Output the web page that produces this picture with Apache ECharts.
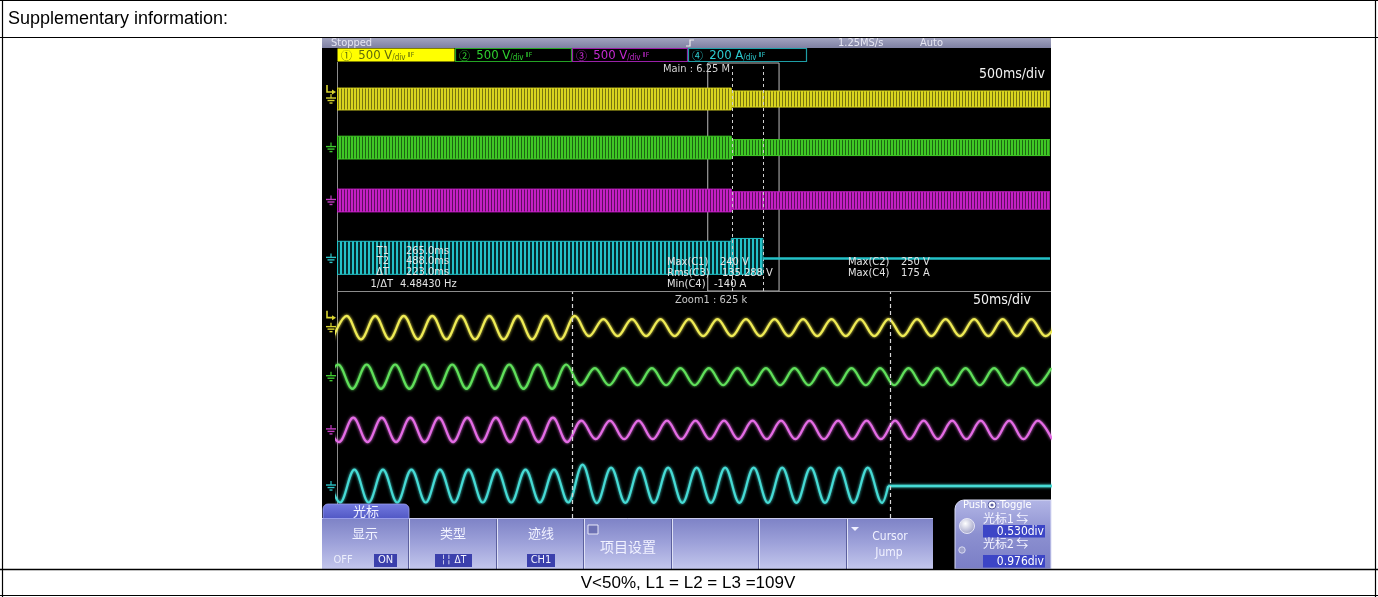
<!DOCTYPE html>
<html>
<head>
<meta charset="utf-8">
<title>Cursor measurement - voltage dip</title>
<script src="https://cdn.jsdelivr.net/npm/echarts@6/dist/echarts.min.js"></script>
<style>
html, body { margin: 0; padding: 0; background: #ffffff; }
#chart { width: 1378px; height: 597px; }
</style>
</head>
<body>
<div id="chart"></div>
<script>
// ---------------- channel setup ----------------
const channelNames = ['CH1', 'CH2', 'CH3', 'CH4'];
const channelLabels = ['500 V', '500 V', '500 V', '200 A'];
const channelScales = [500, 500, 500, 200];          // per division
const mainPositions = [8.42, 6.29, 3.97, 1.43];      // trace zero, div from panel bottom
const zoomPositions = [7.80, 5.79, 3.61, 1.31];

// ---------------- time base ----------------
const mainRange = [-2.5, 2.5];     // s, 500 ms/div
const zoomWindow = [0.1, 0.6];     // s, Zoom1 window inside the main record
const zoomRange = [100, 600];      // ms, 50 ms/div
const cursorTimes = [265.0, 488.0];// ms, T1 / T2

// ---------------- main window envelopes [t0 s, t1 s, max, min] ----------------
const ch1MainEnvelope = [[-2.5, 0.265, 240, -240], [0.265, 2.5, 176, -176]];
const ch2MainEnvelope = [[-2.5, 0.265, 250, -250], [0.265, 2.5, 175, -175]];
const ch3MainEnvelope = [[-2.5, 0.265, 250, -250], [0.265, 2.5, 191, -191]];
const ch4MainEnvelope = [[-2.5, 0.265, 150, -140], [0.265, 0.487, 175, -140]];
const ch4MainFlat = [[0.487, 0], [2.5, 0]];

// ---------------- zoom window: peak / trough of every half cycle (ms, value) ----------------
const ch1ZoomTimes = [96.8, 106.8, 116.8, 126.8, 136.8, 146.8, 156.8, 166.8, 176.8, 186.8, 196.8, 206.8, 216.8,
  226.8, 236.8, 246.8, 256.8, 266.8, 276.8, 286.8, 296.8, 306.8, 316.8, 326.8, 336.8, 346.8, 356.8, 366.8,
  376.8, 386.8, 396.8, 406.8, 416.8, 426.8, 436.8, 446.8, 456.8, 466.8, 476.8, 486.8, 496.8, 506.8, 516.8,
  526.8, 536.8, 546.8, 556.8, 566.8, 576.8, 586.8, 596.8, 606.8];
const ch1ZoomValues = [-240, 240, -240, 240, -240, 240, -240, 240, -240, 240, -240, 240, -240, 240, -240, 240,
  -240, 240, -176, 176, -176, 176, -176, 176, -176, 176, -176, 176, -176, 176, -176, 176, -176, 176, -176, 176,
  -176, 176, -176, 176, -176, 176, -176, 176, -176, 176, -176, 176, -176, 176, -176, 176];

const ch2ZoomTimes = [90.8, 100.8, 110.8, 120.8, 130.8, 140.8, 150.8, 160.8, 170.8, 180.8, 190.8, 200.8, 210.8,
  220.8, 230.8, 240.8, 250.8, 260.8, 270.8, 280.8, 290.8, 300.8, 310.8, 320.8, 330.8, 340.8, 350.8, 360.8,
  370.8, 380.8, 390.8, 400.8, 410.8, 420.8, 430.8, 440.8, 450.8, 460.8, 470.8, 480.8, 490.8, 500.8, 510.8,
  520.8, 530.8, 540.8, 550.8, 560.8, 570.8, 580.8, 590.8, 600.8];
const ch2ZoomValues = [-250, 250, -250, 250, -250, 250, -250, 250, -250, 250, -250, 250, -250, 250, -250, 250,
  -250, 250, -175, 175, -175, 175, -175, 175, -175, 175, -175, 175, -175, 175, -175, 175, -175, 175, -175, 175,
  -175, 175, -175, 175, -175, 175, -175, 175, -175, 175, -175, 175, -175, 175, -175, 175];

const ch3ZoomTimes = [91.4, 101.4, 111.4, 121.4, 131.4, 141.4, 151.4, 161.4, 171.4, 181.4, 191.4, 201.4, 211.4,
  221.4, 231.4, 241.4, 251.4, 261.4, 271.4, 281.4, 291.4, 301.4, 311.4, 321.4, 331.4, 341.4, 351.4, 361.4,
  371.4, 381.4, 391.4, 401.4, 411.4, 421.4, 431.4, 441.4, 451.4, 461.4, 471.4, 481.4, 491.4, 501.4, 511.4,
  521.4, 531.4, 541.4, 551.4, 561.4, 571.4, 581.4, 591.4, 601.4];
const ch3ZoomValues = [250, -250, 250, -250, 250, -250, 250, -250, 250, -250, 250, -250, 250, -250, 250, -250,
  250, -250, 191, -191, 191, -191, 191, -191, 191, -191, 191, -191, 191, -191, 191, -191, 191, -191, 191, -191,
  191, -191, 191, -191, 191, -191, 191, -191, 191, -191, 191, -191, 191, -191, 191, -191];

const ch4ZoomTimes = [92.2, 102.2, 112.2, 122.2, 132.2, 142.2, 152.2, 162.2, 172.2, 182.2, 192.2, 202.2, 212.2,
  222.2, 232.2, 242.2, 252.2, 262.2, 272.2, 282.2, 292.2, 302.2, 312.2, 322.2, 332.2, 342.2, 352.2, 362.2,
  372.2, 382.2, 392.2, 402.2, 412.2, 422.2, 432.2, 442.2, 452.2, 462.2, 472.2, 482.2, 486.5];
const ch4ZoomValues = [135, -135, 135, -135, 135, -135, 135, -135, 135, -135, 135, -135, 135, -135, 135, -135,
  135, -135, 175, -140, 150, -138, 150, -138, 150, -138, 150, -138, 150, -138, 150, -138, 150, -138, 150, -138,
  150, -138, 150, -138, 0];
const ch4ZoomFlat = [[486.5, 0], [610, 0]];

// readouts
const rmsCh3 = '135.288';

// ---------------- drawing ----------------
const SC = '"DejaVu Sans Condensed", "Liberation Sans Narrow", sans-serif';
const CJK = '"Noto Sans CJK SC", sans-serif';
const ARIAL = '"Liberation Sans", Arial, sans-serif';

const mainColors = ['#d9d51f', '#3fc925', '#c41fc4', '#23c1c7'];
const mainShades = ['#77730f', '#1d6413', '#5e0f5e', '#0c4f54'];
const zoomColors = ['#efeb55', '#60e05b', '#e46ce5', '#46dbd5'];
const markColors = ['#d8d430', '#3fc930', '#c43cc4', '#2cc4c8'];

function stripePattern(color, shade, width, dark) {
  const c = document.createElement('canvas');
  c.width = width; c.height = 4;
  const g = c.getContext('2d');
  g.fillStyle = color; g.fillRect(0, 0, width, 4);
  g.fillStyle = shade; g.fillRect(width - dark, 0, dark, 4);
  return { image: c, repeat: 'repeat' };
}
const patterns = [
  stripePattern(mainColors[0], mainShades[0], 3, 1),
  stripePattern(mainColors[1], mainShades[1], 3, 1),
  stripePattern(mainColors[2], mainShades[2], 3, 1),
  stripePattern(mainColors[3], '#062a2c', 4, 2)
];

function toDiv(ch, v, positions) { return positions[ch] + v / channelScales[ch]; }

const gridLine = { color: '#4b4b4b', width: 1, type: [1, 2] };
function plotAxis(gridIndex, min, max, interval) {
  return {
    gridIndex, type: 'value', min, max, interval,
    axisLine: { show: false }, axisTick: { show: false }, axisLabel: { show: false },
    splitLine: { show: true, lineStyle: gridLine }
  };
}

const series = [];
[ch1MainEnvelope, ch2MainEnvelope, ch3MainEnvelope, ch4MainEnvelope].forEach((env, ch) => {
  series.push({
    type: 'custom', name: channelNames[ch] + ' main', xAxisIndex: 0, yAxisIndex: 0,
    silent: true, clip: true, z: 2,
    data: env.map(r => [r[0], r[1], toDiv(ch, r[2], mainPositions), toDiv(ch, r[3], mainPositions)]),
    encode: { x: [0, 1], y: [2, 3] },
    renderItem: (params, api) => {
      const a = api.coord([api.value(0), api.value(2)]);
      const b = api.coord([api.value(1), api.value(3)]);
      return {
        type: 'rect',
        shape: { x: a[0], y: a[1], width: b[0] - a[0], height: b[1] - a[1] },
        style: { fill: patterns[ch], stroke: mainColors[ch], lineWidth: 1 }
      };
    }
  });
});

series.push({
  type: 'line', name: 'CH4 main flat', xAxisIndex: 0, yAxisIndex: 0, z: 5, silent: true,
  symbol: 'none', animation: false,
  data: ch4MainFlat.map(p => [p[0], toDiv(3, p[1], mainPositions)]),
  lineStyle: { color: mainColors[3], width: 2.5 },
  markLine: {
    silent: true, symbol: ['none', 'none'], label: { show: false }, animation: false,
    lineStyle: { color: '#cfcfcf', width: 1, type: [3, 3] },
    data: cursorTimes.map(t => ({ xAxis: t / 1000 }))
  },
  markArea: {
    silent: true, label: { show: false }, animation: false,
    itemStyle: { color: 'rgba(0,0,0,0)', borderColor: '#bcbcbc', borderWidth: 1 },
    data: [[{ xAxis: zoomWindow[0] }, { xAxis: zoomWindow[1] }]]
  }
});

const zoomSets = [
  [ch1ZoomTimes, ch1ZoomValues], [ch2ZoomTimes, ch2ZoomValues],
  [ch3ZoomTimes, ch3ZoomValues], [ch4ZoomTimes, ch4ZoomValues]
];
zoomSets.forEach(([times, values], ch) => {
  const s = {
    type: 'line', name: channelNames[ch] + ' zoom', xAxisIndex: 1, yAxisIndex: 1, z: 3,
    silent: true, symbol: 'none', smooth: 0.36, clip: true, animation: false,
    data: times.map((t, i) => [t, toDiv(ch, values[i], zoomPositions)]),
    lineStyle: { color: zoomColors[ch], width: 2.2, shadowColor: zoomColors[ch], shadowBlur: 3 }
  };
  if (ch === 0) {
    s.markLine = {
      silent: true, symbol: ['none', 'none'], label: { show: false }, animation: false,
      lineStyle: { color: '#d6d6d6', width: 1.2, type: [4, 3], shadowBlur: 0 },
      data: cursorTimes.map(t => ({ xAxis: t }))
    };
  }
  series.push(s);
});
series.push({
  type: 'line', name: 'CH4 zoom flat', xAxisIndex: 1, yAxisIndex: 1, z: 3, silent: true,
  symbol: 'none', clip: true, animation: false,
  data: ch4ZoomFlat.map(p => [p[0], toDiv(3, p[1], zoomPositions)]),
  lineStyle: { color: zoomColors[3], width: 2.5, shadowColor: zoomColors[3], shadowBlur: 3 }
});

const chart = echarts.init(document.getElementById('chart'));
chart.setOption({
  backgroundColor: '#ffffff',
  animation: false,
  grid: [
    { left: 337, top: 63, width: 713, height: 228 },
    { left: 337, top: 292, width: 713, height: 226 }
  ],
  xAxis: [
    plotAxis(0, mainRange[0], mainRange[1], 0.1),
    plotAxis(1, zoomRange[0], zoomRange[1], 10)
  ],
  yAxis: [
    plotAxis(0, 0, 10, 0.625),
    plotAxis(1, 0, 9.26, 0.57875)
  ],
  series
});

// ---------------- screen furniture ----------------
const G = [];
function box(x, y, w, h, style, z, r) {
  G.push({ type: 'rect', z: z || 0, silent: true, shape: { x, y, width: w, height: h, r: r || 0 }, style });
}
function seg(x1, y1, x2, y2, stroke, lw, z, dash) {
  G.push({ type: 'line', z: z || 1, silent: true, shape: { x1, y1, x2, y2 },
    style: { stroke, lineWidth: lw || 1, lineDash: dash || null } });
}
function txt(x, y, s, o) {
  o = o || {};
  const st = {
    text: s, fill: o.color || '#e4e4e4', fontSize: o.size || 11, fontFamily: o.font || SC,
    fontWeight: o.weight || 'normal',
    align: o.align || 'left', textAlign: o.align || 'left',
    verticalAlign: 'middle', textVerticalAlign: 'middle'
  };
  if (o.rich) st.rich = o.rich;
  if (o.shadow) {
    st.textShadowColor = o.shadow; st.textShadowBlur = 0;
    st.textShadowOffsetX = 1; st.textShadowOffsetY = 1;
  }
  G.push({ type: 'text', x, y, z: o.z || 20, silent: true, style: st });
}
function grad(stops) {
  return new echarts.graphic.LinearGradient(0, 0, 0, 1, stops.map((c, i) => ({ offset: i / (stops.length - 1), color: c })));
}

// page table
box(0, 0, 1378, 38, { fill: '#ffffff' }, 0);
seg(0, 0.5, 1378, 0.5, '#000', 1.2, 40);
seg(2.5, 0, 2.5, 597, '#000', 1.2, 40);
seg(1375.5, 0, 1375.5, 597, '#000', 1.2, 40);
seg(0, 37.5, 1378, 37.5, '#000', 1.2, 40);
seg(0, 569.5, 1378, 569.5, '#000', 1.4, 40);
seg(0, 595.5, 1378, 595.5, '#000', 1.2, 40);
txt(8, 19, 'Supplementary information:', { font: ARIAL, size: 18, color: '#000', z: 40 });
txt(688, 583, 'V<50%, L1 = L2 = L3 =109V', { font: ARIAL, size: 17, color: '#000', align: 'center', z: 40 });

// scope screen
box(322, 38, 729, 531, { fill: '#000000' }, 0);
box(322, 38, 729, 10, { fill: grad(['#a2a4c0', '#7e80a2']) }, 1);
txt(331, 43, 'Stopped', { color: '#e6e6f2', size: 11 });
G.push({ type: 'polyline', z: 20, silent: true,
  shape: { points: [[686, 46], [690, 46], [690, 40], [694, 40]] }, style: { stroke: '#f0f0f0', lineWidth: 1.2, fill: null } });
txt(838, 43, '1.25MS/s', { color: '#e6e6f2', size: 11 });
txt(920, 43, 'Auto', { color: '#e6e6f2', size: 11 });

// channel tags
const tagX = [337, 455, 572, 688];
const tagW = [118, 117, 116, 119];
const circled = ['\u2460', '\u2461', '\u2462', '\u2463'];
const tagText = ['#5e6a0c', '#2fd02f', '#c42ad0', '#2ccbd0'];
const tagEdge = ['#ffff00', '#24a424', '#9a20a8', '#1e9ea6'];
for (let i = 0; i < 4; i++) {
  box(tagX[i] + 0.5, 48.5, tagW[i] - 1, 13, i === 0 ? { fill: '#ffff00' } : { fill: '#000', stroke: tagEdge[i], lineWidth: 1.2 }, 1);
  txt(tagX[i] + 4, 55.5, '{n|' + circled[i] + '}  {v|' + channelLabels[i] + '}{d|/div}{k| \u2161F}', {
    color: tagText[i],
    rich: {
      n: { fontFamily: CJK, fontSize: 11, fill: tagText[i] },
      v: { fontFamily: SC, fontSize: 13, fill: tagText[i] },
      d: { fontFamily: SC, fontSize: 8, fill: tagText[i], padding: [4, 0, 0, 0] },
      k: { fontFamily: SC, fontSize: 7, fill: tagText[i] }
    }
  });
}

// frame lines
seg(337.5, 62, 337.5, 518, '#8c8c8c', 1, 1);
seg(337, 291.5, 1051, 291.5, '#8c8c8c', 1, 6);

// header readouts
txt(663, 69.5, 'Main : 6.25 M', { color: '#d4d4d4', size: 11 });
txt(1045, 74, '500ms/div', { color: '#f2f2f2', size: 14, align: 'right' });
txt(675, 300, 'Zoom1 : 625 k', { color: '#c8c8c8', size: 11 });
txt(1031, 300.5, '50ms/div', { color: '#f2f2f2', size: 14, align: 'right' });

// cursor readouts
const dT = cursorTimes[1] - cursorTimes[0];
txt(389, 251, 'T1', { align: 'right' });
txt(389, 261.5, 'T2', { align: 'right' });
txt(389, 272, '\u0394T', { align: 'right' });
txt(393, 284, '1/\u0394T', { align: 'right' });
txt(406, 251, cursorTimes[0].toFixed(1) + 'ms');
txt(406, 261.5, cursorTimes[1].toFixed(1) + 'ms');
txt(406, 272, dT.toFixed(1) + 'ms');
txt(400, 284, (1000 / dT).toFixed(5) + ' Hz');

const maxC1 = Math.max(...ch1ZoomValues), maxC2 = Math.max(...ch2ZoomValues);
const maxC4 = Math.max(...ch4ZoomValues), minC4 = Math.min(...ch4ZoomValues);
txt(667, 262, 'Max(C1)');
txt(667, 273, 'Rms(C3)');
txt(667, 284, 'Min(C4)');
txt(720, 262, maxC1 + ' V');
txt(722, 273, rmsCh3 + ' V');
txt(714, 284, minC4 + ' A');
txt(848, 262, 'Max(C2)');
txt(848, 273, 'Max(C4)');
txt(901, 262, maxC2 + ' V');
txt(901, 273, maxC4 + ' A');

// ground and trigger markers on the left strip
function groundMark(y, color) {
  seg(331, y - 5, 331, y - 1, color, 1.2, 20);
  seg(326, y - 1, 336, y - 1, color, 1.4, 20);
  seg(327.5, y + 1.5, 334.5, y + 1.5, color, 1.4, 20);
  seg(329.5, y + 4, 332.5, y + 4, color, 1.4, 20);
}
function triggerMark(y, color) {
  G.push({ type: 'polyline', z: 20, silent: true,
    shape: { points: [[327, y - 7], [327, y], [333, y]] }, style: { stroke: color, lineWidth: 1.6, fill: null } });
  G.push({ type: 'polygon', z: 20, silent: true,
    shape: { points: [[332, y - 2.5], [336, y], [332, y + 2.5]] }, style: { fill: color } });
}
for (let i = 0; i < 4; i++) {
  const pm = chart.convertToPixel({ gridIndex: 0 }, [mainRange[0], mainPositions[i]]);
  const pz = chart.convertToPixel({ gridIndex: 1 }, [zoomRange[0], zoomPositions[i]]);
  groundMark(pm[1], markColors[i]);
  groundMark(pz[1], markColors[i]);
  if (i === 0) { triggerMark(pm[1] - 7, markColors[0]); triggerMark(pz[1] - 10, markColors[0]); }
}

// soft-key menu
const menuEdges = [322, 409, 497, 584, 672, 759, 847, 933];
const keyFill = grad(['#7d82c6', '#9ea2da', '#c3c6ec']);
box(322, 518, 611, 51, { fill: keyFill }, 30);
for (let i = 1; i < menuEdges.length - 1; i++) {
  seg(menuEdges[i] - 0.5, 519, menuEdges[i] - 0.5, 569, '#5c609e', 1, 31);
  seg(menuEdges[i] + 0.5, 519, menuEdges[i] + 0.5, 569, '#dfe1f6', 1, 31);
}
seg(322, 518.5, 933, 518.5, '#c9cbee', 1, 31);
box(323, 504, 86, 14.5, { fill: grad(['#747be0', '#5057c4']), stroke: '#9aa0ee', lineWidth: 0.8 }, 31, [5, 5, 0, 0]);
const emb = { color: '#f1f2ff', font: CJK, size: 13, align: 'center', shadow: '#2e3276', z: 35 };
txt(366, 511, '\u5149\u6807', emb);
txt(365, 533, '\u663e\u793a', emb);
txt(453, 533, '\u7c7b\u578b', emb);
txt(541, 533, '\u8ff9\u7ebf', emb);
txt(628, 547, '\u9879\u76ee\u8bbe\u7f6e', Object.assign({}, emb, { size: 14 }));
txt(343, 560.5, 'OFF', { color: '#eceefc', size: 11, align: 'center', shadow: '#2e3276', z: 35 });
box(374, 554, 23, 13, { fill: '#3b40ac' }, 33);
txt(385.5, 560.5, 'ON', { color: '#f4f4ff', size: 11, align: 'center', z: 35 });
box(435, 554, 37, 13, { fill: '#3b40ac' }, 33);
txt(453.5, 560.5, '\u254e\u254e \u0394T', { color: '#f4f4ff', size: 10, align: 'center', z: 35 });
box(527, 554, 28, 13, { fill: '#3b40ac' }, 33);
txt(541, 560.5, 'CH1', { color: '#f4f4ff', size: 11, align: 'center', z: 35 });
box(588, 525, 10, 9, { fill: '#6d71b4', stroke: '#e8e8f8', lineWidth: 1 }, 33);
G.push({ type: 'polygon', z: 35, silent: true, shape: { points: [[851, 527], [859, 527], [855, 531]] }, style: { fill: '#f0f0ff' } });
txt(890, 537, 'Cursor', { color: '#f1f2ff', size: 12, align: 'center', shadow: '#2e3276', z: 35 });
txt(889, 553, 'Jump', { color: '#f1f2ff', size: 12, align: 'center', shadow: '#2e3276', z: 35 });

// cursor knob panel
box(955, 500, 96, 69, { fill: grad(['#b3b6e6', '#8c90d0', '#7a7ec6']), stroke: '#dcdef6', lineWidth: 1 }, 30, [9, 0, 0, 0]);
txt(963, 505, 'Push', { color: '#ffffff', size: 11, z: 35, shadow: '#3a3e80' });
G.push({ type: 'circle', z: 35, silent: true, shape: { cx: 992, cy: 505, r: 4 }, style: { fill: '#ffffff', stroke: '#5a5ea0', lineWidth: 1 } });
G.push({ type: 'circle', z: 36, silent: true, shape: { cx: 992, cy: 505, r: 1.6 }, style: { fill: '#5a5ea0' } });
txt(996.5, 505, ':Toggle', { color: '#ffffff', size: 11, z: 35, shadow: '#3a3e80' });
G.push({ type: 'circle', z: 35, silent: true, shape: { cx: 967, cy: 526, r: 7.5 },
  style: { fill: new echarts.graphic.RadialGradient(0.4, 0.35, 0.7, [{ offset: 0, color: '#ffffff' }, { offset: 1, color: '#9a9cc4' }]), stroke: '#e6e6f6', lineWidth: 1 } });
G.push({ type: 'circle', z: 35, silent: true, shape: { cx: 962, cy: 550, r: 3.2 }, style: { fill: '#9ea1cc', stroke: '#d8daf2', lineWidth: 1 } });
txt(983, 518, '\u5149\u68071 \u21c6', { color: '#f4f4ff', font: CJK, size: 12, z: 35, shadow: '#3a3e80' });
box(983, 525, 62, 12.5, { fill: '#3c45c6' }, 33);
txt(1044, 531.5, (cursorTimes[0] / 500).toFixed(3) + 'div', { color: '#ffffff', size: 12, align: 'right', z: 35 });
txt(983, 543, '\u5149\u68072 \u21c6', { color: '#f4f4ff', font: CJK, size: 12, z: 35, shadow: '#3a3e80' });
box(983, 555, 62, 12.5, { fill: '#3c45c6' }, 33);
txt(1044, 561.5, (cursorTimes[1] / 500).toFixed(3) + 'div', { color: '#ffffff', size: 12, align: 'right', z: 35 });

chart.setOption({ graphic: { elements: G } });
</script>
</body>
</html>
